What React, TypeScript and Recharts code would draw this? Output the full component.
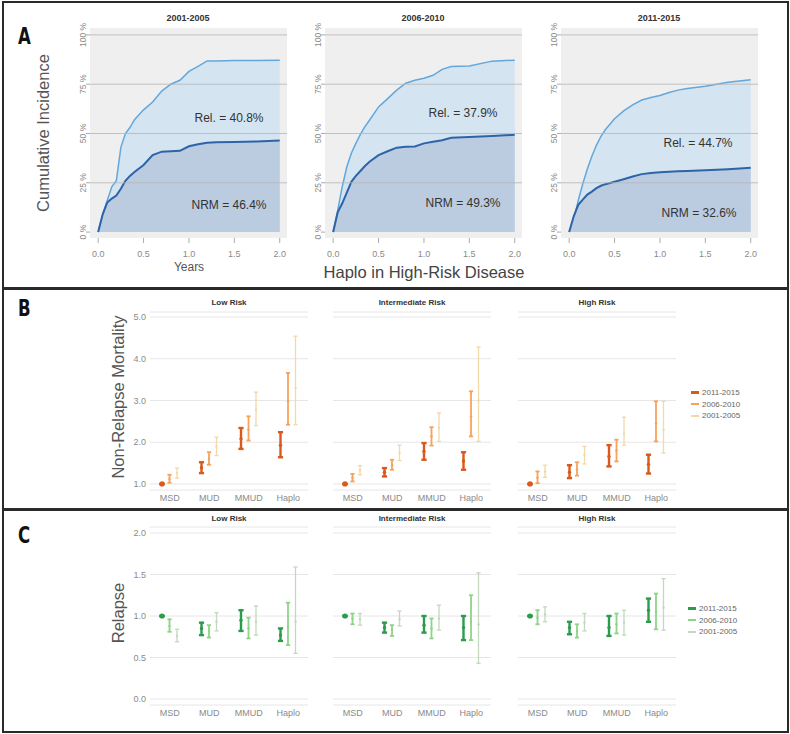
import React from "react";
import {
  ComposedChart,
  Area,
  Bar,
  ErrorBar,
  XAxis,
  YAxis,
  CartesianGrid,
  ReferenceLine,
} from "recharts";

// ---- Panel A: cumulative incidence (%) over years after transplant ----
const years = [0, 0.05, 0.1, 0.15, 0.2, 0.25, 0.3, 0.35, 0.4, 0.5, 0.6, 0.7, 0.8, 0.9, 1.0, 1.1, 1.2, 1.3, 1.5, 1.75, 2.0];

// upper curve = NRM + relapse, lower curve = NRM
const total2001 = [0, 9, 16, 23, 26, 43, 50, 53, 57, 62, 66, 71.5, 75, 77, 81.5, 84, 86.8, 86.8, 87, 87, 87.2];
const nrm2001 = [0, 9, 15, 17, 18.5, 22, 26, 28.5, 30.5, 34, 39, 40.8, 41, 41.2, 43.5, 44.5, 45.3, 45.5, 45.7, 46, 46.4];
const total2006 = [0, 11, 23, 33, 40, 45, 49.5, 53.5, 56.7, 63.5, 67.7, 72, 75.5, 77, 78, 79.5, 82.5, 84, 84.2, 86.7, 87.2];
const nrm2006 = [0, 10, 14.6, 20, 25.5, 28.5, 31, 33.5, 35.7, 39, 41, 42.8, 43.3, 43.4, 45, 45.8, 46.6, 47.8, 48.2, 48.7, 49.3];
const total2011 = [0, 6, 16, 24.5, 32, 38.5, 44, 48.5, 52, 57.5, 61.5, 64.5, 67, 68.3, 69.3, 70.8, 72, 72.8, 74, 76, 77.3];
const nrm2011 = [0, 8, 13.8, 16.5, 19, 20.5, 22.3, 23.5, 24.3, 25.5, 26.8, 28.2, 29.4, 30, 30.3, 30.6, 30.8, 31, 31.3, 31.9, 32.6];

const eraTitles = ["2001-2005", "2006-2010", "2011-2015"];
const relLabels = ["Rel. = 40.8%", "Rel. = 37.9%", "Rel. = 44.7%"];
const nrmLabels = ["NRM = 46.4%", "NRM = 49.3%", "NRM = 32.6%"];
const pctTicks = [0, 25, 50, 75, 100];
const yearTicks = [0, 0.5, 1, 1.5, 2];

// ---- Panels B and C: hazard ratios, [lower, estimate, upper] ----
const donors = ["MSD", "MUD", "MMUD", "Haplo"];
const periods = ["2011-2015", "2006-2010", "2001-2005"];
const riskGroups = ["Low Risk", "Intermediate Risk", "High Risk"];

// each donor row: 2011-2015, 2006-2010, 2001-2005
const nrmLowRisk = [
  [[1.0, 1.0, 1.0], [1.03, 1.12, 1.22], [1.14, 1.26, 1.38]],
  [[1.26, 1.39, 1.52], [1.46, 1.6, 1.76], [1.68, 1.9, 2.12]],
  [[1.84, 2.08, 2.34], [2.04, 2.3, 2.62], [2.4, 2.78, 3.2]],
  [[1.64, 1.93, 2.24], [2.42, 2.98, 3.66], [2.42, 3.3, 4.54]],
];
const nrmIntRisk = [
  [[1.0, 1.0, 1.0], [1.06, 1.15, 1.24], [1.22, 1.33, 1.44]],
  [[1.18, 1.28, 1.38], [1.34, 1.45, 1.58], [1.56, 1.74, 1.93]],
  [[1.58, 1.78, 1.98], [1.92, 2.14, 2.36], [2.02, 2.34, 2.7]],
  [[1.34, 1.55, 1.76], [2.14, 2.62, 3.22], [2.02, 3.0, 4.28]],
];
const nrmHighRisk = [
  [[1.0, 1.0, 1.0], [1.02, 1.15, 1.3], [1.16, 1.3, 1.45]],
  [[1.14, 1.28, 1.45], [1.2, 1.35, 1.52], [1.48, 1.7, 1.9]],
  [[1.42, 1.66, 1.93], [1.54, 1.8, 2.06], [1.93, 2.2, 2.6]],
  [[1.25, 1.47, 1.7], [2.02, 2.45, 2.98], [1.74, 2.3, 2.98]],
];
const relLowRisk = [
  [[1.0, 1.0, 1.0], [0.81, 0.88, 0.96], [0.69, 0.76, 0.84]],
  [[0.77, 0.85, 0.92], [0.74, 0.82, 0.89], [0.82, 0.93, 1.04]],
  [[0.82, 0.95, 1.07], [0.73, 0.85, 0.98], [0.77, 0.93, 1.12]],
  [[0.7, 0.77, 0.85], [0.65, 0.87, 1.16], [0.55, 0.93, 1.59]],
];
const relIntRisk = [
  [[1.0, 1.0, 1.0], [0.9, 0.97, 1.03], [0.89, 0.96, 1.03]],
  [[0.8, 0.86, 0.92], [0.76, 0.83, 0.89], [0.88, 0.96, 1.06]],
  [[0.8, 0.89, 1.0], [0.73, 0.85, 0.97], [0.83, 0.97, 1.13]],
  [[0.71, 0.86, 1.0], [0.71, 0.93, 1.25], [0.43, 0.9, 1.52]],
];
const relHighRisk = [
  [[1.0, 1.0, 1.0], [0.9, 0.98, 1.07], [0.93, 1.02, 1.11]],
  [[0.78, 0.86, 0.93], [0.74, 0.82, 0.9], [0.82, 0.92, 1.03]],
  [[0.76, 0.86, 1.0], [0.79, 0.9, 1.03], [0.77, 0.92, 1.07]],
  [[0.93, 1.07, 1.21], [0.84, 1.05, 1.27], [0.83, 1.1, 1.45]],
];

const nrmTicks = [1, 2, 3, 4, 5];
const relTicks = [0, 0.5, 1, 1.5, 2];

const orange = ["#d95a1c", "#f5a35c", "#f2d9a8"];
const green = ["#2c9c4c", "#8ed487", "#c3d8bf"];
const barStroke = [2.4, 1.8, 1.3];

const sans = "'Liberation Sans', Arial, sans-serif";
const grayTick = { fontSize: 9, fill: "#8a8a8a", fontFamily: sans };

const abs = (left: number, top: number, extra: React.CSSProperties = {}): React.CSSProperties => ({
  position: "absolute",
  left,
  top,
  ...extra,
});

// rotated percent tick used in panel A
const PctTick = (props: any) => {
  const { x, y, payload } = props;
  return (
    <text x={x} y={y} transform={`rotate(-90 ${x} ${y})`} textAnchor="middle" fontSize={8.5} fill="#8a8a8a" fontFamily={sans}>
      {payload.value} %
    </text>
  );
};

const Centered = ({ x, y, children, style }: any) => (
  <div style={abs(x, y, { transform: "translate(-50%, -50%)", whiteSpace: "nowrap", ...style })}>{children}</div>
);

const VTitle = ({ x, y, children }: any) => (
  <div
    style={abs(x, y, {
      transform: "translate(-50%, -50%) rotate(-90deg)",
      whiteSpace: "nowrap",
      fontSize: 16.5,
      color: "#555",
      fontFamily: sans,
    })}
  >
    {children}
  </div>
);

const PanelLetter = ({ y, children }: any) => (
  <div
    style={abs(18, y, {
      fontFamily: "'DejaVu Sans Condensed', 'DejaVu Sans', sans-serif",
      fontWeight: 900,
      fontSize: 23,
      lineHeight: 1,
      transform: "scaleX(0.8)",
      transformOrigin: "left top",
      color: "#111",
    })}
  >
    {children}
  </div>
);

function IncidenceChart({ plotLeft, total, nrm }: any) {
  const rows = years.map((t, i) => ({ t, total: total[i], nrm: nrm[i] }));
  return (
    <div style={abs(plotLeft - 30, 10)}>
      <ComposedChart width={235} height={262} data={rows} margin={{ top: 18, right: 8, bottom: 0, left: 10 }}>
        <CartesianGrid fill="#efefef" horizontal={false} vertical={false} stroke="none" />
        <XAxis
          type="number"
          dataKey="t"
          domain={[-0.09, 2.08]}
          ticks={yearTicks}
          allowDataOverflow
          tickFormatter={(v: number) => v.toFixed(1)}
          height={34}
          axisLine={false}
          tickSize={5}
          tickMargin={8}
          tickLine={{ stroke: "#aaa" }}
          tick={grayTick}
        />
        <YAxis
          type="number"
          domain={[-3, 103.5]}
          ticks={pctTicks}
          allowDataOverflow
          width={20}
          axisLine={false}
          tickSize={4}
          tickMargin={0}
          tickLine={{ stroke: "#aaa" }}
          tick={<PctTick />}
        />
        <Area
          type="linear"
          dataKey="total"
          stroke="#64a7da"
          strokeWidth={1.5}
          fill="#d3e3f0"
          fillOpacity={0.95}
          isAnimationActive={false}
        />
        <Area
          type="linear"
          dataKey="nrm"
          stroke="#2d63a8"
          strokeWidth={2}
          fill="#b9cadf"
          fillOpacity={0.95}
          isAnimationActive={false}
        />
        {pctTicks.slice(1).map((p) => (
          <ReferenceLine key={p} y={p} stroke="#b5b5b5" strokeOpacity={0.8} />
        ))}
      </ComposedChart>
    </div>
  );
}

function Facet({ values, plotLeft, top, showAxis, domain, ticks, colors }: any) {
  const rows = donors.map((d, i) => {
    const row: any = { donor: d };
    values[i].forEach(([lo, est, hi]: number[], k: number) => {
      row["est" + k] = est;
      row["err" + k] = [est - lo, hi - est];
    });
    return row;
  });
  const axisW = showAxis ? 30 : 0;
  return (
    <div style={abs(plotLeft - axisW, top)}>
      <ComposedChart
        width={axisW + 160}
        height={203}
        data={rows}
        margin={{ top: 5, right: 2, bottom: 0, left: 0 }}
        barSize={6}
        barGap={1.5}
        barCategoryGap={0}
      >
        <CartesianGrid vertical={false} stroke="#e6e6e6" />
        <XAxis
          dataKey="donor"
          interval={0}
          axisLine={false}
          tickLine={false}
          tickSize={0}
          tickMargin={5}
          height={20}
          tick={grayTick}
        />
        <YAxis
          type="number"
          domain={domain}
          ticks={ticks}
          allowDataOverflow
          width={axisW}
          hide={!showAxis}
          axisLine={false}
          tickLine={false}
          tickSize={0}
          tickMargin={4}
          tickFormatter={(v: number) => v.toFixed(1)}
          tick={grayTick}
        />
        {[0, 1, 2].map((k) => (
          <Bar
            key={k}
            dataKey={"est" + k}
            name={periods[k]}
            fill="none"
            isAnimationActive={false}
            shape={(p: any) => {
              const err = p.payload["err" + k];
              const ref = err[0] === 0 && err[1] === 0;
              return <circle cx={p.x + p.width / 2} cy={p.y} r={ref ? 2.6 : k === 0 ? 1.7 : 1.2} fill={colors[k]} />;
            }}
          >
            <ErrorBar dataKey={"err" + k} direction="y" width={k === 0 ? 2.6 : 2.1} strokeWidth={barStroke[k]} stroke={colors[k]} />
          </Bar>
        ))}
      </ComposedChart>
    </div>
  );
}

const PeriodLegend = ({ x, y, colors }: any) => (
  <div style={abs(x, y)}>
    {periods.map((p, k) => (
      <div key={p} style={{ display: "flex", alignItems: "center", height: 11.5, fontSize: 8, color: "#666", fontFamily: sans }}>
        <span style={{ display: "inline-block", width: 8, height: barStroke[k] + 0.2, background: colors[k], marginRight: 3 }} />
        {p}
      </div>
    ))}
  </div>
);

const facetLefts = [150, 333, 518];
const facetCenters = facetLefts.map((l) => l + 79);

export default function App() {
  const box = (top: number, height: number): React.CSSProperties => ({
    position: "absolute",
    left: 2,
    top,
    width: 787,
    height,
    border: "2.5px solid #2a2a2a",
    boxSizing: "border-box",
  });
  const facetTitle = { fontSize: 8, fontWeight: 700, color: "#333", fontFamily: sans };
  const annot = { fontSize: 12, color: "#333", fontFamily: sans };
  return (
    <div style={{ position: "relative", width: 790, height: 734, background: "#fff", fontFamily: sans, overflow: "hidden" }}>
      <style>{"body{margin:0}"}</style>
      <div style={box(1, 289)} />
      <div style={box(287, 224)} />
      <div style={box(508, 225)} />

      {/* Panel A */}
      <PanelLetter y={25}>A</PanelLetter>
      <VTitle x={43} y={133}>Cumulative Incidence</VTitle>
      <IncidenceChart plotLeft={90} total={total2001} nrm={nrm2001} />
      <IncidenceChart plotLeft={325} total={total2006} nrm={nrm2006} />
      <IncidenceChart plotLeft={561} total={total2011} nrm={nrm2011} />
      {[188, 423, 659].map((cx, i) => (
        <Centered key={eraTitles[i]} x={cx} y={18} style={{ fontSize: 9, fontWeight: 700, color: "#333" }}>
          {eraTitles[i]}
        </Centered>
      ))}
      <Centered x={229} y={118} style={annot}>{relLabels[0]}</Centered>
      <Centered x={229} y={205} style={annot}>{nrmLabels[0]}</Centered>
      <Centered x={463} y={113} style={annot}>{relLabels[1]}</Centered>
      <Centered x={463} y={203} style={annot}>{nrmLabels[1]}</Centered>
      <Centered x={698} y={143} style={annot}>{relLabels[2]}</Centered>
      <Centered x={699} y={213} style={annot}>{nrmLabels[2]}</Centered>
      <Centered x={189} y={267} style={{ fontSize: 12, color: "#555" }}>Years</Centered>
      <Centered x={424} y={272} style={{ fontSize: 16.5, color: "#444" }}>Haplo in High-Risk Disease</Centered>

      {/* Panel B */}
      <PanelLetter y={297}>B</PanelLetter>
      <VTitle x={118} y={397}>Non-Relapse Mortality</VTitle>
      {[nrmLowRisk, nrmIntRisk, nrmHighRisk].map((vals, i) => (
        <Facet
          key={"b" + i}
          values={vals}
          plotLeft={facetLefts[i]}
          top={307}
          showAxis={i === 0}
          domain={[0.855, 5.12]}
          ticks={nrmTicks}
          colors={orange}
        />
      ))}
      {riskGroups.map((r, i) => (
        <Centered key={"bt" + r} x={facetCenters[i]} y={302} style={facetTitle}>{r}</Centered>
      ))}
      <PeriodLegend x={691} y={387} colors={orange} />

      {/* Panel C */}
      <PanelLetter y={524}>C</PanelLetter>
      <VTitle x={118} y={613}>Relapse</VTitle>
      {[relLowRisk, relIntRisk, relHighRisk].map((vals, i) => (
        <Facet
          key={"c" + i}
          values={vals}
          plotLeft={facetLefts[i]}
          top={522}
          showAxis={i === 0}
          domain={[-0.072, 2.072]}
          ticks={relTicks}
          colors={green}
        />
      ))}
      {riskGroups.map((r, i) => (
        <Centered key={"ct" + r} x={facetCenters[i]} y={518} style={facetTitle}>{r}</Centered>
      ))}
      <PeriodLegend x={688} y={603} colors={green} />
    </div>
  );
}
